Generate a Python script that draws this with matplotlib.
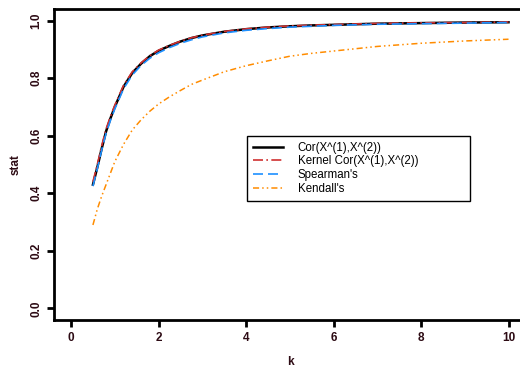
import numpy as np
import matplotlib
matplotlib.use("Agg")
import matplotlib.pyplot as plt

plt.rcParams['font.family'] = ['Liberation Sans', 'DejaVu Sans']

k = [0.5, 0.6, 0.7, 0.8, 0.9, 1.0, 1.2, 1.4, 1.6, 1.8, 2.0, 2.25, 2.5, 2.75,
     3.0, 3.5, 4.0, 4.5, 5.0, 5.5, 6.0, 7.0, 8.0, 9.0, 10.0]
cor = [0.43, 0.49, 0.555, 0.615, 0.66, 0.70, 0.77, 0.818, 0.85, 0.876, 0.895, 0.912,
       0.927, 0.939, 0.948, 0.961, 0.97, 0.976, 0.98, 0.983, 0.985, 0.989, 0.991, 0.993, 0.994]
kern = [0.44, 0.50, 0.565, 0.623, 0.667, 0.706, 0.775, 0.822, 0.853, 0.878, 0.897, 0.914,
        0.928, 0.94, 0.949, 0.962, 0.971, 0.977, 0.981, 0.984, 0.986, 0.99, 0.992, 0.993, 0.995]
spear = [0.425, 0.485, 0.55, 0.608, 0.653, 0.693, 0.763, 0.811, 0.844, 0.869, 0.888, 0.906,
         0.921, 0.933, 0.943, 0.957, 0.966, 0.972, 0.977, 0.98, 0.983, 0.987, 0.989, 0.991, 0.993]
kend = [0.29, 0.345, 0.39, 0.43, 0.47, 0.51, 0.57, 0.62, 0.655, 0.685, 0.71, 0.735,
        0.757, 0.778, 0.793, 0.822, 0.843, 0.86, 0.876, 0.886, 0.894, 0.91, 0.921, 0.929, 0.935]

txt = '#2d0b14'

fig = plt.figure(figsize=(5.2, 3.71), dpi=100)
ax = fig.add_axes([54/520, 51/371, 472/520, 311/371])

ax.plot(k, cor, color='black', lw=1.8, label='Cor(X^(1),X^(2))')
ax.plot(k, kern, color='#d03030', lw=1.2, ls=(0, (6, 2, 1, 2)), label='Kernel Cor(X^(1),X^(2))')
ax.plot(k, spear, color='#1e90ff', lw=1.2, ls=(0, (6, 3)), label="Spearman's")
ax.plot(k, kend, color='#ff8c00', lw=1.1, ls=(0, (4, 2, 1, 2, 1, 2)), label="Kendall's")

ax.set_xlim(-0.39, 10.4)
ax.set_ylim(-0.04, 1.04)
ax.set_xticks([0, 2, 4, 6, 8, 10])
ax.set_yticks([0.0, 0.2, 0.4, 0.6, 0.8, 1.0])
ax.set_yticklabels(['0.0', '0.2', '0.4', '0.6', '0.8', '1.0'], rotation=90, va='center')
ax.tick_params(width=2, length=5, labelsize=8.5, colors='black', labelcolor=txt)
for lab in ax.get_xticklabels() + ax.get_yticklabels():
    lab.set_fontweight('bold')
for s in ax.spines.values():
    s.set_linewidth(2)
ax.spines['right'].set_visible(False)

fig.text(16/520, 1 - 165/371, 'stat', rotation=90, ha='center', va='center',
         fontsize=8.5, fontweight='bold', color=txt)
fig.text(290/520, 1 - 362/371, 'k', ha='center', va='center',
         fontsize=8.5, fontweight='bold', color=txt)

# legend box stretched to the reference width
leg = ax.legend(loc='upper left', mode='expand',
                bbox_to_anchor=(247/520, 1 - 198/371, 223/520, 62/371),
                bbox_transform=fig.transFigure, fontsize=8.3, frameon=True,
                fancybox=False, framealpha=1, edgecolor='black',
                handlelength=2.6, labelspacing=0.15, borderpad=0.5,
                handletextpad=1.3, borderaxespad=0)
leg.get_frame().set_linewidth(1)

fig.savefig('out.png', dpi=100)
